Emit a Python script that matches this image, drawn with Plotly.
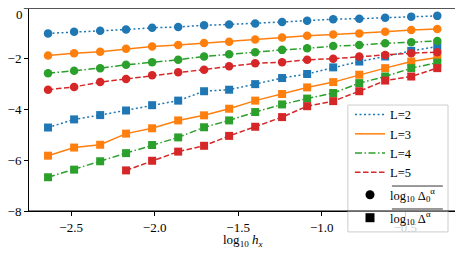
import plotly.graph_objects as go

# ---- data ----
log_hx = [-2.638, -2.482, -2.326, -2.171, -2.015, -1.859, -1.704, -1.554,
          -1.398, -1.237, -1.087, -0.931, -0.775, -0.620, -0.464, -0.308]

levels = ["L=2", "L=3", "L=4", "L=5"]

delta0 = {
    "L=2": [-1.00, -0.94, -0.90, -0.85, -0.78, -0.75, -0.68, -0.65, -0.61, -0.55, -0.50, -0.44, -0.42, -0.38, -0.34, -0.31],
    "L=3": [-1.87, -1.78, -1.72, -1.61, -1.52, -1.46, -1.38, -1.33, -1.24, -1.16, -1.09, -1.04, -1.00, -0.94, -0.87, -0.83],
    "L=4": [-2.57, -2.47, -2.37, -2.24, -2.14, -2.04, -1.91, -1.82, -1.74, -1.65, -1.59, -1.50, -1.46, -1.39, -1.35, -1.30],
    "L=5": [-3.22, -3.11, -2.92, -2.80, -2.65, -2.53, -2.43, -2.30, -2.18, -2.14, -2.04, -2.00, -1.91, -1.85, -1.78, -1.74],
}
delta = {
    "L=2": [-4.71, -4.39, -4.22, -4.04, -3.83, -3.65, -3.28, -3.22, -3.00, -2.76, -2.60, -2.34, -2.11, -1.91, -1.69, -1.52],
    "L=3": [-5.82, -5.50, -5.39, -4.95, -4.74, -4.43, -4.23, -3.97, -3.65, -3.39, -3.13, -2.92, -2.63, -2.37, -2.11, -1.95],
    "L=4": [-6.67, -6.37, -6.04, -5.72, -5.40, -5.10, -4.70, -4.43, -4.10, -3.80, -3.57, -3.35, -2.96, -2.70, -2.37, -2.15],
    "L=5": [None, None, None, -6.40, -6.02, -5.66, -5.43, -5.04, -4.68, -4.30, -3.87, -3.67, -3.28, -2.86, -2.70, -2.37],
}

x_ticks = [-2.5, -2.0, -1.5, -1.0, -0.5]
y_ticks = [0, -2, -4, -6, -8]
y_ticktext = ["", "−2", "−4", "−6", "−8"]   # the "0" label is placed as an annotation

colors = {"L=2": "#1f77b4", "L=3": "#ff7f0e", "L=4": "#2ca02c", "L=5": "#d62728"}
dashes = {"L=2": "2px,2.5px", "L=3": "solid", "L=4": "7px,2.5px,1.5px,2.5px", "L=5": "5.5px,2.5px"}

FONT = "Liberation Serif, serif"

fig = go.Figure()
for L in levels:
    c = colors[L]
    fig.add_trace(go.Scatter(x=log_hx, y=delta0[L], mode="lines+markers",
                             line=dict(color=c, width=1.5, dash=dashes[L]),
                             marker=dict(symbol="circle", size=8.5, color=c),
                             showlegend=False, connectgaps=False))
    fig.add_trace(go.Scatter(x=log_hx, y=delta[L], mode="lines+markers",
                             line=dict(color=c, width=1.5, dash=dashes[L]),
                             marker=dict(symbol="square", size=8, color=c),
                             showlegend=False, connectgaps=False))

# legend entries
for L in levels:
    fig.add_trace(go.Scatter(x=[None], y=[None], mode="lines", name=L, legend="legend",
                             line=dict(color=colors[L], width=1.5, dash=dashes[L])))
fig.add_trace(go.Scatter(x=[None], y=[None], mode="markers", legend="legend2",
                         name="log<sub>10</sub> Δ<sub>0</sub><sup>α</sup>",
                         marker=dict(symbol="circle", size=9, color="black")))
fig.add_trace(go.Scatter(x=[None], y=[None], mode="markers", legend="legend3",
                         name="log<sub>10</sub> Δ<sup>α</sup>",
                         marker=dict(symbol="square", size=9, color="black")))

# top gray line
fig.add_shape(type="line", xref="paper", yref="paper", x0=-0.012, x1=1, y0=1, y1=1,
              line=dict(color="#555555", width=2))
# legend frame (drawn as a shape so tick label beneath is faded)
fig.add_shape(type="rect", xref="paper", yref="paper", x0=0.745, x1=0.979, y0=-0.103, y1=0.522,
              fillcolor="rgba(255,255,255,0.8)", line=dict(color="#cccccc", width=1), layer="above")
# bottom spine on top of frame
fig.add_shape(type="line", xref="paper", yref="paper", x0=0, x1=1, y0=0, y1=0,
              line=dict(color="black", width=1), layer="above")
# overlines on the mean labels
for yy in (0.123, 0.0099):
    fig.add_shape(type="line", xref="paper", yref="paper", x0=0.848, x1=0.967, y0=yy, y1=yy,
                  line=dict(color="black", width=0.8), layer="above")

lg_common = dict(xanchor="left", yanchor="top", bgcolor="rgba(0,0,0,0)", borderwidth=0,
                 font=dict(family=FONT, size=12.5))
fig.update_layout(
    width=455, height=246,
    margin=dict(l=21, r=6, t=0, b=43, autoexpand=False),
    paper_bgcolor="white", plot_bgcolor="white",
    font=dict(family=FONT, size=13, color="black"),
    showlegend=True,
    legend=dict(x=0.75, y=0.547, **lg_common),
    legend2=dict(x=0.75, y=0.152, **lg_common),
    legend3=dict(x=0.75, y=0.039, **lg_common),
    xaxis=dict(range=[-2.752, -0.19], tickvals=x_ticks, tickformat=".1f",
               automargin=False, ticklabeloverflow="allow",
               showgrid=False, zeroline=False, showline=True, linecolor="black",
               linewidth=1, mirror=True, ticks="outside", ticklen=4, tickwidth=0.8,
               tickcolor="black", tickfont=dict(family=FONT, size=13)),
    yaxis=dict(range=[-8, 0], tickvals=y_ticks, ticktext=y_ticktext, showgrid=False,
               zeroline=False, automargin=False, ticklabeloverflow="allow",
               showline=True, linecolor="black", linewidth=1, mirror=True,
               ticks="outside", ticklen=4, tickwidth=0.8, tickcolor="black",
               tickfont=dict(family=FONT, size=13)),
    annotations=[
        dict(text="log<sub>10</sub> <i>h<sub>x</sub></i>", xref="paper", yref="paper",
             x=0.5, y=-0.143, xanchor="center", yanchor="middle", showarrow=False,
             font=dict(family=FONT, size=13)),
        dict(text="0", xref="paper", yref="paper", x=0, y=1, xanchor="right", yanchor="top",
             xshift=-5, yshift=2, showarrow=False, borderpad=0,
             font=dict(family=FONT, size=13)),
    ],
)

fig.write_html("out.html")
